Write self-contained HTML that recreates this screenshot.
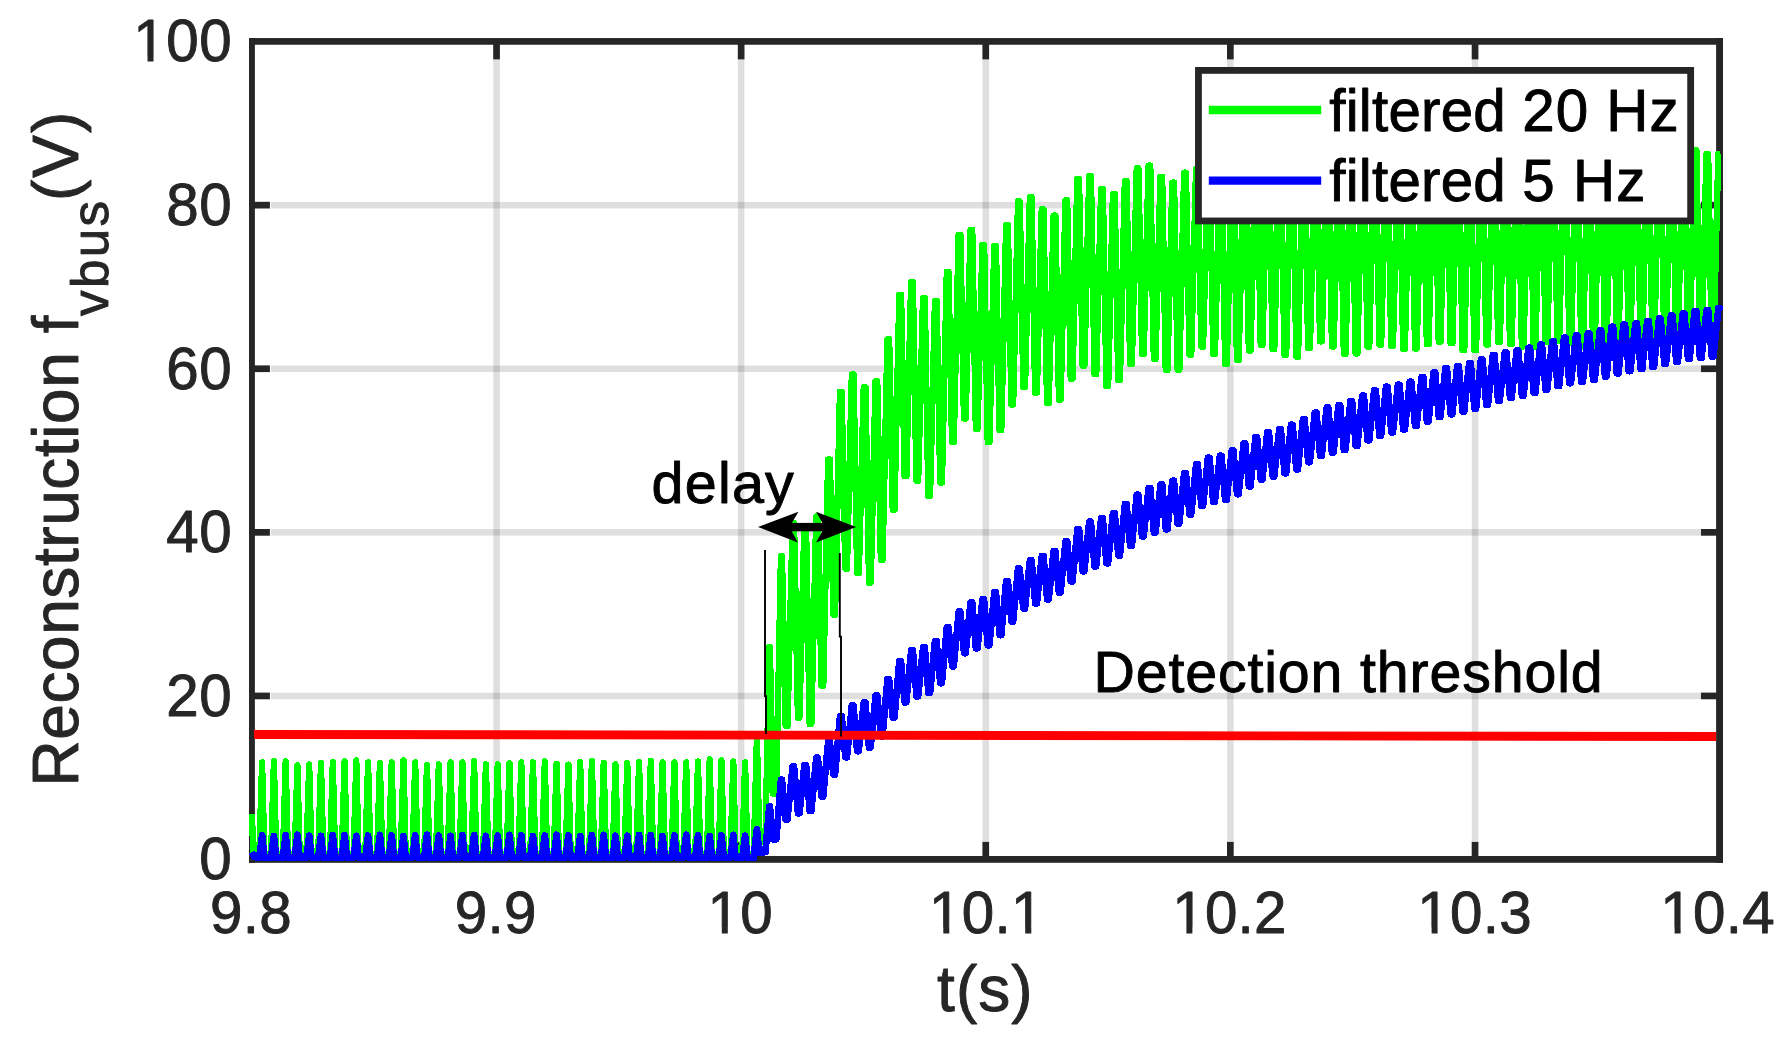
<!DOCTYPE html>
<html lang="en">
<head>
<meta charset="utf-8">
<title>Reconstruction f_vbus</title>
<style>
html,body{margin:0;padding:0;background:#fff;}
body{width:1792px;height:1048px;overflow:hidden;}
svg{display:block;}
</style>
</head>
<body>
<svg width="1792" height="1048" viewBox="0 0 1792 1048">
<rect width="1792" height="1048" fill="#fff"/>
<g fill="#262626" fill-opacity="0.15">
<rect x="493.3" y="59.4" width="6.5" height="782.5"/>
<rect x="737.9" y="59.4" width="6.5" height="782.5"/>
<rect x="982.5" y="59.4" width="6.5" height="782.5"/>
<rect x="1227.1" y="59.4" width="6.5" height="782.5"/>
<rect x="1471.8" y="59.4" width="6.5" height="782.5"/>
<rect x="271" y="692.7" width="1430" height="6.5"/>
<rect x="271" y="529.1" width="1430" height="6.5"/>
<rect x="271" y="365.5" width="1430" height="6.5"/>
<rect x="271" y="201.9" width="1430" height="6.5"/>
</g>
<g fill="#262626">
<rect x="249" y="38.05" width="1474" height="6.7"/>
<rect x="249" y="856" width="1474" height="6.8"/>
<rect x="249" y="38.05" width="5.9" height="824.75"/>
<rect x="1716.1" y="38.05" width="6.9" height="824.75"/>
<rect x="493.2" y="841.9" width="6.7" height="15"/>
<rect x="493.2" y="44" width="6.7" height="15.4"/>
<rect x="737.8" y="841.9" width="6.7" height="15"/>
<rect x="737.8" y="44" width="6.7" height="15.4"/>
<rect x="982.4" y="841.9" width="6.7" height="15"/>
<rect x="982.4" y="44" width="6.7" height="15.4"/>
<rect x="1227" y="841.9" width="6.7" height="15"/>
<rect x="1227" y="44" width="6.7" height="15.4"/>
<rect x="1471.7" y="841.9" width="6.7" height="15"/>
<rect x="1471.7" y="44" width="6.7" height="15.4"/>
<rect x="254" y="692.6" width="15.9" height="6.7"/>
<rect x="1701" y="692.6" width="16" height="6.7"/>
<rect x="254" y="529" width="15.9" height="6.7"/>
<rect x="1701" y="529" width="16" height="6.7"/>
<rect x="254" y="365.4" width="15.9" height="6.7"/>
<rect x="1701" y="365.4" width="16" height="6.7"/>
<rect x="254" y="201.8" width="15.9" height="6.7"/>
<rect x="1701" y="201.8" width="16" height="6.7"/>
</g>
<g fill="none" stroke-linejoin="round" stroke-linecap="butt" shape-rendering="crispEdges">
<polyline stroke="#00ff00" stroke-width="6.3" points="252,814.2 253.2,853 259.3,853.9 262.1,762.4 264.4,853.9 271.1,853.9 273.9,761.2 276.2,853.9 282.9,853.9 285.7,761.2 287.9,853.9 294.7,853.9 297.4,765.2 299.7,853.9 306.4,853.9 309.2,764.5 311.5,853.9 318.2,853.9 321,763.2 323.3,853.9 330,853.9 332.8,762 335.1,853.9 341.8,853.9 344.6,761.2 346.8,853.9 353.6,853.9 356.3,760.4 358.6,853.9 365.3,853.9 368.1,762.4 370.4,853.9 377.1,853.9 379.9,762.9 382.2,853.9 388.9,853.9 391.7,762.4 394,853.9 400.7,853.9 403.5,760.4 405.7,853.9 412.5,853.9 415.2,762.4 417.5,853.9 424.2,853.9 427,764.9 429.3,853.9 436,853.9 438.8,764.4 441.1,853.9 447.8,853.9 450.6,762.4 452.9,853.9 459.6,853.9 462.4,762.4 464.6,853.9 471.4,853.9 474.1,761.2 476.4,853.9 483.1,853.9 485.9,764.4 488.2,853.9 494.9,853.9 497.7,764.4 500,853.9 506.7,853.9 509.5,763.2 511.8,853.9 518.5,853.9 521.3,762.4 523.5,853.9 530.3,853.9 533,762.4 535.3,853.9 542,853.9 544.8,761.4 547.1,853.9 553.8,853.9 556.6,763.8 558.9,853.9 565.6,853.9 568.4,764.6 570.7,853.9 577.4,853.9 580.2,762.1 582.4,853.9 589.2,853.9 591.9,761.1 594.2,853.9 600.9,853.9 603.7,762.8 606,853.9 612.7,853.9 615.5,764.4 617.8,853.9 624.5,853.9 627.3,763.1 629.6,853.9 636.3,853.9 639.1,761.8 641.3,853.9 648.1,853.9 650.8,760.8 653.1,853.9 659.8,853.9 662.6,762.4 664.9,853.9 671.6,853.9 674.4,762.4 676.7,853.9 683.4,853.9 686.2,762.4 688.5,853.9 695.2,853.9 698,761.5 700.2,853.9 707,853.9 709.7,759.2 712,853.9 718.7,853.9 721.5,760.5 723.8,853.9 730.5,853.9 733.3,761.5 735.6,853.9 742.3,853.9 745.1,762.4 747.4,853.9 753.7,853.8 756.8,741.2 757,741.2 759.4,843.2 765.4,840.8 769.3,647.1 769.9,647.1 773,793.6 776.3,793.6 780.9,556.3 782,556.3 785.6,726 787.5,726 792.6,522.8 794.1,522.8 797.9,717.6 799.5,717.6 804.3,525.9 806.1,525.9 809.6,724 811.4,724 816.2,516.4 818,516.4 821.5,685.9 823.3,685.9 828.1,459.4 829.9,459.4 833.4,614.6 835.1,614.6 839.9,391.7 841.7,391.7 845.2,568.7 847,568.7 851.8,374.5 853.6,374.5 857.1,573 858.9,573 863.7,387.1 865.5,387.1 869,582.7 870.8,582.7 875.5,381.2 877.3,381.2 880.8,560 882.6,560 887.4,339.4 889.2,339.4 892.7,509.9 894.5,509.9 899.3,294.7 901.1,294.7 904.6,476.3 906.4,476.3 911.1,282.2 912.9,282.2 916.4,480.7 918.2,480.7 923,297.9 924.8,297.9 928.3,496 930.1,496 934.9,301.1 936.7,301.1 940.2,482.5 942,482.5 946.8,271.7 948.5,271.7 952,441.8 953.8,441.8 958.6,234.8 960.4,234.8 963.9,418.5 965.7,418.5 970.5,229.8 972.3,229.8 975.8,428.9 977.6,428.9 982.4,244.9 984.2,244.9 987.7,442.1 989.5,442.1 994.2,246.1 996,246.1 999.5,430.2 1001.3,430.2 1006.1,224.8 1007.9,224.8 1011.4,404.5 1013.2,404.5 1018,201.3 1019.8,201.3 1023.3,387.2 1025.1,387.2 1029.8,197.1 1031.6,197.1 1035.1,392.7 1036.9,392.7 1041.7,209.1 1043.5,209.1 1047,403.1 1048.8,403.1 1053.6,215.6 1055.4,215.6 1058.9,399.7 1060.7,399.7 1065.4,200.4 1067.2,200.4 1070.7,378.6 1072.6,378.6 1077.3,178.9 1079.1,178.9 1082.6,365.6 1084.4,365.6 1089.2,176.2 1091,176.2 1094.5,374.3 1096.3,374.3 1101.1,189.1 1102.9,189.1 1106.4,386.1 1108.2,386.1 1112.9,193.8 1114.7,193.8 1118.2,379.9 1120,379.9 1124.8,181.1 1126.6,181.1 1130.1,364 1131.9,364 1136.7,168.4 1138.5,168.4 1142,354 1143.8,354 1148.5,165.6 1150.3,165.6 1153.8,359.1 1155.6,359.1 1160.4,176.8 1162.2,176.8 1165.7,370 1167.5,370 1172.3,182.6 1174.1,182.6 1177.6,369.7 1179.4,369.7 1184.1,172.6 1186,172.6 1189.4,354.6 1191.3,354.6 1196,168.9 1197.8,168.9 1201.3,346.8 1203.1,346.8 1207.9,165 1209.7,165 1213.2,354.2 1215,354.2 1219.8,168.9 1221.6,168.9 1225.1,363.9 1226.9,363.9 1231.6,171.3 1233.4,171.3 1236.9,360.1 1238.7,360.1 1243.5,164.6 1245.3,164.6 1248.8,350.5 1250.6,350.5 1255.4,157 1257.2,157 1260.7,345 1262.5,345 1267.2,156.4 1269,156.4 1272.5,349.2 1274.3,349.2 1279.1,161.4 1280.9,161.4 1284.4,354.9 1286.2,354.9 1291,165.1 1292.8,165.1 1296.3,356.6 1298.1,356.6 1302.8,161.4 1304.7,161.4 1308.1,347.7 1310,347.7 1314.7,153.8 1316.5,153.8 1320,341.4 1321.8,341.4 1326.6,153.2 1328.4,153.2 1331.9,346.5 1333.7,346.5 1338.5,159.5 1340.3,159.5 1343.8,354 1345.6,354 1350.3,163 1352.1,163 1355.6,353.5 1357.4,353.5 1362.2,159.4 1364,159.4 1367.5,346.8 1369.3,346.8 1374.1,155.1 1375.9,155.1 1379.4,344.8 1381.2,344.8 1385.9,154.8 1387.7,154.8 1391.2,346.3 1393,346.3 1397.8,156.9 1399.6,156.9 1403.1,348.9 1404.9,348.9 1409.7,158 1411.5,158 1415,348.5 1416.8,348.5 1421.5,155.7 1423.3,155.7 1426.8,344.2 1428.7,344.2 1433.4,152.3 1435.2,152.3 1438.7,341.7 1440.5,341.7 1445.3,151.8 1447.1,151.8 1450.6,343.3 1452.4,343.3 1457.2,156.1 1459,156.1 1462.5,350.2 1464.3,350.2 1469,159.5 1470.8,159.5 1474.3,350.3 1476.1,350.3 1480.9,156.7 1482.7,156.7 1486.2,344.5 1488,344.5 1492.8,152.7 1494.6,152.7 1498.1,342.2 1499.9,342.2 1504.6,152.4 1506.4,152.4 1509.9,344 1511.7,344 1516.5,154.5 1518.3,154.5 1521.8,346.4 1523.6,346.4 1528.4,156 1530.2,156 1533.7,346.9 1535.5,346.9 1540.2,153.8 1542.1,153.8 1545.5,342.2 1547.4,342.2 1552.1,150.6 1553.9,150.6 1557.4,340.5 1559.2,340.5 1564,150.9 1565.8,150.9 1569.3,342.7 1571.1,342.7 1575.9,153.9 1577.7,153.9 1581.2,346.4 1583,346.4 1587.7,155.6 1589.5,155.6 1593,346.3 1594.8,346.3 1599.6,153.5 1601.4,153.5 1604.9,342.2 1606.7,342.2 1611.5,150.6 1613.3,150.6 1616.8,340.5 1618.6,340.5 1623.3,150.9 1625.1,150.9 1628.6,342.7 1630.4,342.7 1635.2,153.9 1637,153.9 1640.5,346.4 1642.3,346.4 1647.1,155.6 1648.9,155.6 1652.4,346.3 1654.2,346.3 1658.9,153.5 1660.8,153.5 1664.2,342.2 1666,342.2 1670.8,150.6 1672.6,150.6 1676.1,340.5 1677.9,340.5 1682.7,150.8 1684.5,150.8 1688,342.7 1689.8,342.7 1694.6,150.1 1696.4,150.1 1699.9,346.4 1701.7,346.4 1706.4,154.1 1708.2,154.1 1711.7,346.3 1713.5,346.3 1718.3,154.1 1720.1,154.1 1720.1,154.1"/>
<polyline stroke="#0000ff" stroke-width="6.8" points="252,852 254,857 259.3,857.6 262.1,835.4 264.4,857.6 271.1,857.6 273.9,836 276.2,857.6 282.9,857.6 285.7,835.2 287.9,857.6 294.7,857.6 297.4,834.8 299.7,857.6 306.4,857.6 309.2,835.7 311.5,857.6 318.2,857.6 321,835.9 323.3,857.6 330,857.6 332.8,835 335.1,857.6 341.8,857.6 344.6,835 346.8,857.6 353.6,857.6 356.3,835.9 358.6,857.6 365.3,857.6 368.1,835.6 370.4,857.6 377.1,857.6 379.9,834.8 382.2,857.6 388.9,857.6 391.7,835.3 394,857.6 400.7,857.6 403.5,836 405.7,857.6 412.5,857.6 415.2,835.3 417.5,857.6 424.2,857.6 427,834.8 429.3,857.6 436,857.6 438.8,835.6 441.1,857.6 447.8,857.6 450.6,835.9 452.9,857.6 459.6,857.6 462.4,835 464.6,857.6 471.4,857.6 474.1,835 476.4,857.6 483.1,857.6 485.9,835.9 488.2,857.6 494.9,857.6 497.7,835.7 500,857.6 506.7,857.6 509.5,834.9 511.8,857.6 518.5,857.6 521.3,835.2 523.5,857.6 530.3,857.6 533,836 535.3,857.6 542,857.6 544.8,835.4 547.1,857.6 553.8,857.6 556.6,834.8 558.9,857.6 565.6,857.6 568.4,835.5 570.7,857.6 577.4,857.6 580.2,836 582.4,857.6 589.2,857.6 591.9,835.1 594.2,857.6 600.9,857.6 603.7,834.9 606,857.6 612.7,857.6 615.5,835.8 617.8,857.6 624.5,857.6 627.3,835.8 629.6,857.6 636.3,857.6 639.1,834.9 641.3,857.6 648.1,857.6 650.8,835.1 653.1,857.6 659.8,857.6 662.6,836 664.9,857.6 671.6,857.6 674.4,835.5 676.7,857.6 683.4,857.6 686.2,834.8 688.5,857.6 695.2,857.6 698,835.4 700.2,857.6 707,857.6 709.7,836 712,857.6 718.7,857.6 721.5,835.2 723.8,857.6 730.5,857.6 733.3,834.9 735.6,857.6 742.3,857.6 745.1,835.7 747.4,857.6 753.7,857.6 756.8,829.5 756.9,829.5 759.4,852.7 765.4,852.1 769.3,806.5 769.9,806.5 773,839.2 776.3,839.2 781,779.7 781.9,779.7 785.6,819.3 787.4,819.3 792.7,766.3 794,766.3 798,813.2 799.4,813.2 804.5,764.9 806,764.9 809.8,810.9 811.3,810.9 816.3,757.8 817.8,757.8 821.6,796.7 823.1,796.7 828.2,741.5 829.7,741.5 833.5,774.5 835,774.5 840.1,716 841.6,716 845.4,757.2 846.9,757.2 851.9,705.5 853.4,705.5 857.2,751.2 858.7,751.2 863.8,702.3 865.3,702.3 869.1,747.6 870.6,747.6 875.7,695.3 877.2,695.3 881,736.3 882.5,736.3 887.5,679.3 889,679.3 892.8,717.7 894.4,717.7 899.4,661 900.9,661 904.7,702.3 906.2,702.3 911.3,650.3 912.8,650.3 916.6,696.3 918.1,696.3 923.2,647.4 924.7,647.4 928.5,693 930,693 935,641.1 936.5,641.1 940.3,683.1 941.8,683.1 946.9,627.2 948.4,627.2 952.2,666.3 953.7,666.3 958.8,611.6 960.3,611.6 964.1,653.1 965.6,653.1 970.6,602.4 972.1,602.4 975.9,648.2 977.4,648.2 982.5,599.3 984,599.3 987.8,645.2 989.3,645.2 994.4,592.3 995.9,592.3 999.7,635.1 1001.2,635.1 1006.2,581.1 1007.8,581.1 1011.5,621.5 1013,621.5 1018.1,568.5 1019.6,568.5 1023.4,608.5 1024.9,608.5 1030,560.3 1031.5,560.3 1035.3,603.5 1036.8,603.5 1041.9,555.9 1043.4,555.9 1047.2,599.3 1048.7,599.3 1053.7,551 1055.2,551 1059,592.6 1060.5,592.6 1065.6,541.3 1067.1,541.3 1070.9,581.3 1072.4,581.3 1077.5,529.2 1079,529.2 1082.8,571.2 1084.3,571.2 1089.3,521.8 1090.8,521.8 1094.6,566.3 1096.1,566.3 1101.2,518.1 1102.7,518.1 1106.5,563.2 1108,563.2 1113.1,512.9 1114.6,512.9 1118.4,555.5 1119.9,555.5 1125,503.9 1126.5,503.9 1130.2,545.7 1131.8,545.7 1136.8,494.8 1138.3,494.8 1142.1,536.4 1143.6,536.4 1148.7,488.1 1150.2,488.1 1154,532.6 1155.5,532.6 1160.6,484.6 1162.1,484.6 1165.9,529.2 1167.4,529.2 1172.4,480.8 1173.9,480.8 1177.7,523.4 1179.2,523.4 1184.3,472.9 1185.8,472.9 1189.6,514.4 1191.1,514.4 1196.2,464.3 1197.7,464.3 1201.5,505.9 1203,505.9 1208,457.8 1209.5,457.8 1213.3,501.9 1214.8,501.9 1219.9,455.8 1221.4,455.8 1225.2,500 1226.7,500 1231.8,450.5 1233.3,450.5 1237.1,494.1 1238.6,494.1 1243.7,443.5 1245.2,443.5 1249,486.3 1250.5,486.3 1255.5,437 1257,437 1260.8,479.6 1262.3,479.6 1267.4,432.1 1268.9,432.1 1272.7,476.6 1274.2,476.6 1279.3,429.2 1280.8,429.2 1284.6,473.2 1286.1,473.2 1291.1,424.8 1292.6,424.8 1296.4,469.3 1297.9,469.3 1303,419 1304.5,419 1308.3,462.1 1309.8,462.1 1314.9,412.7 1316.4,412.7 1320.2,455.9 1321.7,455.9 1326.7,407.7 1328.2,407.7 1332,452.4 1333.5,452.4 1338.6,405.2 1340.1,405.2 1343.9,449.9 1345.4,449.9 1350.5,401.2 1352,401.2 1355.8,445.8 1357.3,445.8 1362.3,395.6 1363.8,395.6 1367.6,440.2 1369.2,440.2 1374.2,390.5 1375.7,390.5 1379.5,436 1381,436 1386.1,386.8 1387.6,386.8 1391.4,432.4 1392.9,432.4 1398,384.8 1399.5,384.8 1403.3,429.5 1404.8,429.5 1409.8,381.8 1411.3,381.8 1415.1,425.8 1416.6,425.8 1421.7,377.1 1423.2,377.1 1427,421.5 1428.5,421.5 1433.6,372.5 1435.1,372.5 1438.9,417 1440.4,417 1445.4,368.4 1446.9,368.4 1450.7,414.2 1452.2,414.2 1457.3,366 1458.8,366 1462.6,411.7 1464.1,411.7 1469.2,363.4 1470.7,363.4 1474.5,408.7 1476,408.7 1481,359.4 1482.5,359.4 1486.3,405 1487.9,405 1492.9,355 1494.4,355 1498.2,400.8 1499.7,400.8 1504.8,352.3 1506.3,352.3 1510.1,397.9 1511.6,397.9 1516.7,350.3 1518.2,350.3 1522,396 1523.5,396 1528.5,347.8 1530,347.8 1533.8,392.8 1535.3,392.8 1540.4,344.7 1541.9,344.7 1545.7,389.8 1547.2,389.8 1552.3,341.5 1553.8,341.5 1557.6,386 1559.1,386 1564.1,337.7 1565.6,337.7 1569.4,383.1 1570.9,383.1 1576,335.5 1577.5,335.5 1581.3,381.9 1582.8,381.9 1587.9,333.5 1589.4,333.5 1593.2,379.8 1594.7,379.8 1599.8,330.6 1601.2,330.6 1605,376.4 1606.5,376.4 1611.6,326.8 1613.1,326.8 1616.9,373.3 1618.4,373.3 1623.5,324.7 1625,324.7 1628.8,371.1 1630.3,371.1 1635.4,323.5 1636.9,323.5 1640.7,369 1642.2,369 1647.2,321 1648.7,321 1652.5,366.8 1654,366.8 1659.1,318.5 1660.6,318.5 1664.4,364 1665.9,364 1671,315.6 1672.5,315.6 1676.3,361.7 1677.8,361.7 1682.8,313.4 1684.3,313.4 1688.1,359 1689.6,359 1694.7,311 1696.2,311 1700,358 1701.5,358 1706.6,310.1 1708.1,310.1 1711.9,356.5 1713.4,356.5 1718.4,308.2 1719.9,308.2 1720.1,310.1"/>
</g>
<line x1="254" y1="734.45" x2="1716.1" y2="736.45" stroke="#ff0000" stroke-width="8.9"/>
<g stroke="#000" stroke-width="1.9" fill="none">
<polyline points="765,550 765,696 766,696 766,734"/>
<polyline points="839.8,553 839.8,636.6 841,636.6 841,736.5"/>
</g>
<g fill="#000" stroke="none">
<rect x="786" y="522.9" width="42" height="8.4"/>
<polygon points="758,527 798.4,511.8 789.5,527 797.8,542.4"/>
<polygon points="856.2,527 816,511.8 824.8,527 816,542.4"/>
</g>
<g font-family="'Liberation Sans', Arial, Helvetica, sans-serif" fill="#262626" stroke="#262626" stroke-width="0.9" stroke-linejoin="round">
<g font-size="58.3" text-anchor="middle" letter-spacing="0.3">
<text x="251.1" y="933">9.8</text>
<text x="495.7" y="933">9.9</text>
<text x="740.3" y="933">10</text>
<text x="986.4" y="933">10.1</text>
<text x="1229.5" y="933">10.2</text>
<text x="1474.7" y="933">10.3</text>
<text x="1717.7" y="933">10.4</text>
</g>
<g font-size="58.3" text-anchor="end" letter-spacing="0.6">
<text x="232.3" y="879.4">0</text>
<text x="232.3" y="715.8">20</text>
<text x="232.3" y="552.2">40</text>
<text x="232.3" y="388.6">60</text>
<text x="232.3" y="225">80</text>
<text x="232.3" y="61.4">100</text>
</g>
<text x="985.3" y="1011.3" font-size="64.0" text-anchor="middle" letter-spacing="1">t(s)</text>
<text transform="translate(78.1,786.5) rotate(-90)" font-size="64.0" letter-spacing="0.57">Reconstruction f</text>
<text transform="translate(108.4,316) rotate(-90)" font-size="51.2" letter-spacing="2.3">vbus</text>
<text transform="translate(78.1,201.1) rotate(-90)" font-size="64.0" letter-spacing="2.05">(V)</text>
<g fill="#000" stroke="#000">
<text x="651.6" y="502.5" font-size="57.5" letter-spacing="1.2">delay</text>
<text x="1093.6" y="692.4" font-size="57.3" letter-spacing="0.85">Detection threshold</text>
</g>
</g>
<g fill="#fff"><rect x="710.8" y="927.6" width="11.0" height="6.6"/><rect x="727.8" y="927.6" width="10.5" height="6.6"/><rect x="932.3" y="927.6" width="11.0" height="6.6"/><rect x="949.3" y="927.6" width="10.5" height="6.6"/><rect x="1014.2" y="927.6" width="11.0" height="6.6"/><rect x="1031.3" y="927.6" width="10.5" height="6.6"/><rect x="1175.4" y="927.6" width="11.0" height="6.6"/><rect x="1192.4" y="927.6" width="10.5" height="6.6"/><rect x="1420.6" y="927.6" width="11.0" height="6.6"/><rect x="1437.6" y="927.6" width="10.5" height="6.6"/><rect x="1663.6" y="927.6" width="11.0" height="6.6"/><rect x="1680.6" y="927.6" width="10.5" height="6.6"/><rect x="136.5" y="56.0" width="11.0" height="6.6"/><rect x="153.5" y="56.0" width="10.5" height="6.6"/></g>
<rect x="1198.45" y="70.4" width="492.2" height="150.55" fill="#fff" stroke="#262626" stroke-width="6.8"/>
<line x1="1208.8" y1="110" x2="1321.2" y2="110" stroke="#00ff00" stroke-width="8.4"/>
<line x1="1208.8" y1="180.6" x2="1321.2" y2="180.6" stroke="#0000ff" stroke-width="8.4"/>
<g font-family="'Liberation Sans', Arial, Helvetica, sans-serif" fill="#000" stroke="#000" stroke-width="0.9" stroke-linejoin="round" font-size="58.3">
<text x="1329.3" y="130.6"><tspan letter-spacing="0.2">filtered </tspan><tspan letter-spacing="1.0">20 Hz</tspan></text>
<text x="1329.3" y="200.6"><tspan letter-spacing="0.2">filtered </tspan><tspan letter-spacing="1.1">5 Hz</tspan></text>
</g>
</svg>
</body>
</html>
